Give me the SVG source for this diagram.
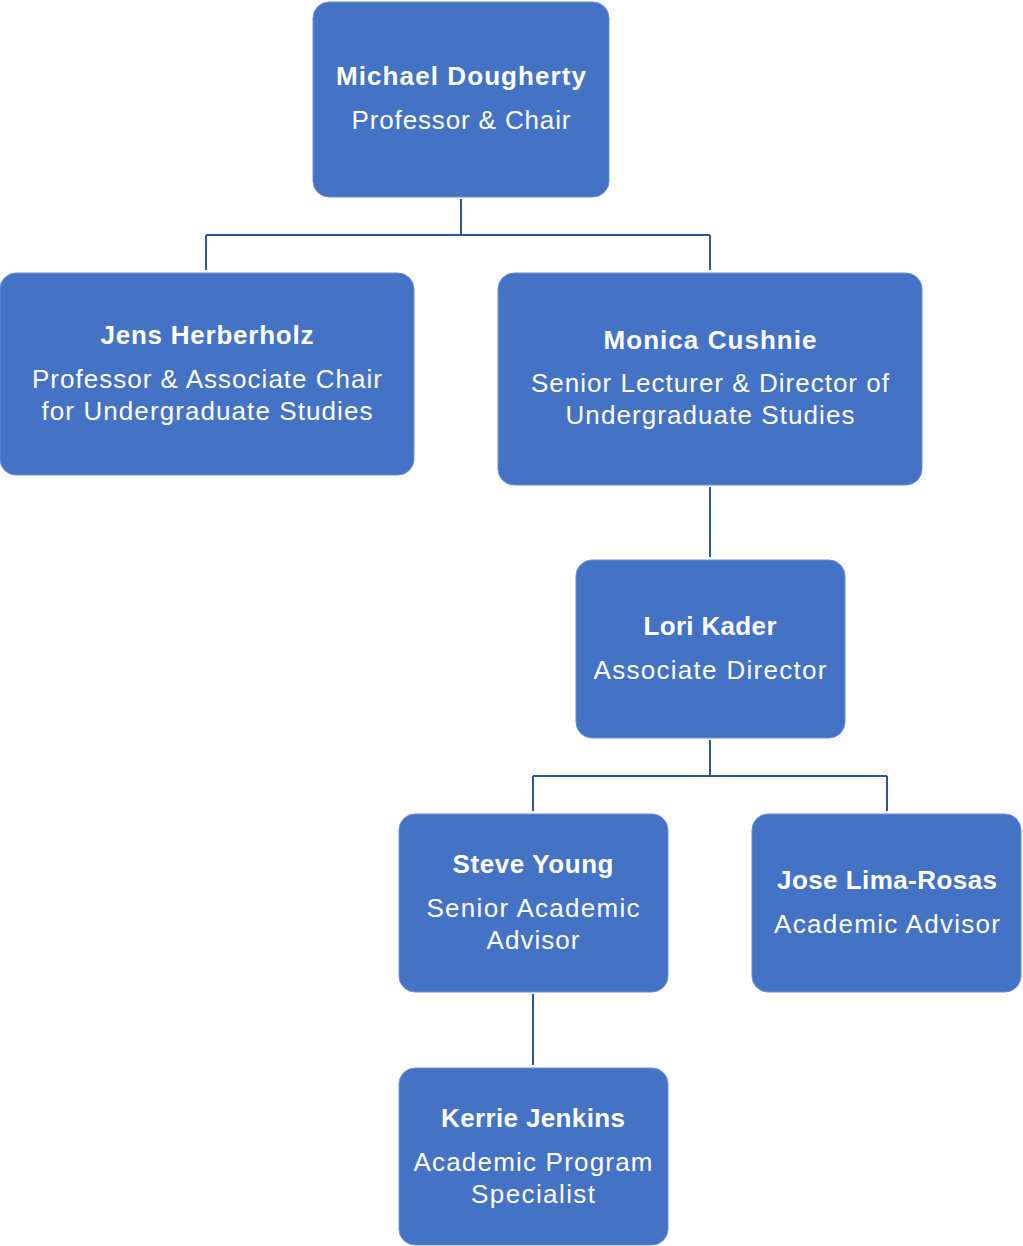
<svg xmlns="http://www.w3.org/2000/svg" width="1023" height="1246" viewBox="0 0 1023 1246">
<style>
.box{fill:#4472C4;stroke:#6A8FD3;stroke-width:1}
.name{font-family:"Liberation Sans",Arial,sans-serif;font-weight:bold;font-size:26px;fill:#fff;text-anchor:middle}
.sub{font-family:"Liberation Sans",Arial,sans-serif;font-size:26px;fill:#fff;text-anchor:middle}
.conn{fill:none;stroke:#2F5597;stroke-width:2}
</style>
<rect width="1023" height="1246" fill="#fff"/>
<g id="connectors">
<path class="conn" d="M461 199V235M206 235H710M206 235V270M710 235V270"/>
<path class="conn" d="M710 487V557"/>
<path class="conn" d="M710 740V776M533 776H887M533 776V811M887 776V811"/>
<path class="conn" d="M533 994V1065"/>
</g>
<g id="michael">
<rect class="box" x="313" y="2" width="296" height="195" rx="16"/>
<text class="name" x="461" y="85" textLength="250">Michael Dougherty</text>
<text class="sub" x="461" y="129" textLength="219">Professor &amp; Chair</text>
</g>
<g id="jens">
<rect class="box" x="0" y="273" width="414" height="202" rx="16"/>
<text class="name" x="207" y="344" textLength="213">Jens Herberholz</text>
<text class="sub" x="207" y="388" textLength="350">Professor &amp; Associate Chair</text>
<text class="sub" x="207" y="420" textLength="331">for Undergraduate Studies</text>
</g>
<g id="monica">
<rect class="box" x="498" y="273" width="424" height="212" rx="16"/>
<text class="name" x="710" y="349" textLength="213">Monica Cushnie</text>
<text class="sub" x="710" y="392" textLength="358">Senior Lecturer &amp; Director of</text>
<text class="sub" x="710" y="424" textLength="289">Undergraduate Studies</text>
</g>
<g id="lori">
<rect class="box" x="576" y="560" width="269" height="178" rx="16"/>
<text class="name" x="710" y="635" textLength="133">Lori Kader</text>
<text class="sub" x="710" y="679" textLength="233">Associate Director</text>
</g>
<g id="steve">
<rect class="box" x="399" y="814" width="269" height="178" rx="16"/>
<text class="name" x="533" y="873" textLength="161">Steve Young</text>
<text class="sub" x="533" y="917" textLength="213">Senior Academic</text>
<text class="sub" x="533" y="949" textLength="93">Advisor</text>
</g>
<g id="jose">
<rect class="box" x="752" y="814" width="269" height="178" rx="16"/>
<text class="name" x="887" y="889" textLength="220">Jose Lima-Rosas</text>
<text class="sub" x="887" y="933" textLength="226">Academic Advisor</text>
</g>
<g id="kerrie">
<rect class="box" x="399" y="1068" width="269" height="177" rx="16"/>
<text class="name" x="533" y="1127" textLength="184">Kerrie Jenkins</text>
<text class="sub" x="533" y="1171" textLength="239">Academic Program</text>
<text class="sub" x="533" y="1203" textLength="124">Specialist</text>
</g>
</svg>
